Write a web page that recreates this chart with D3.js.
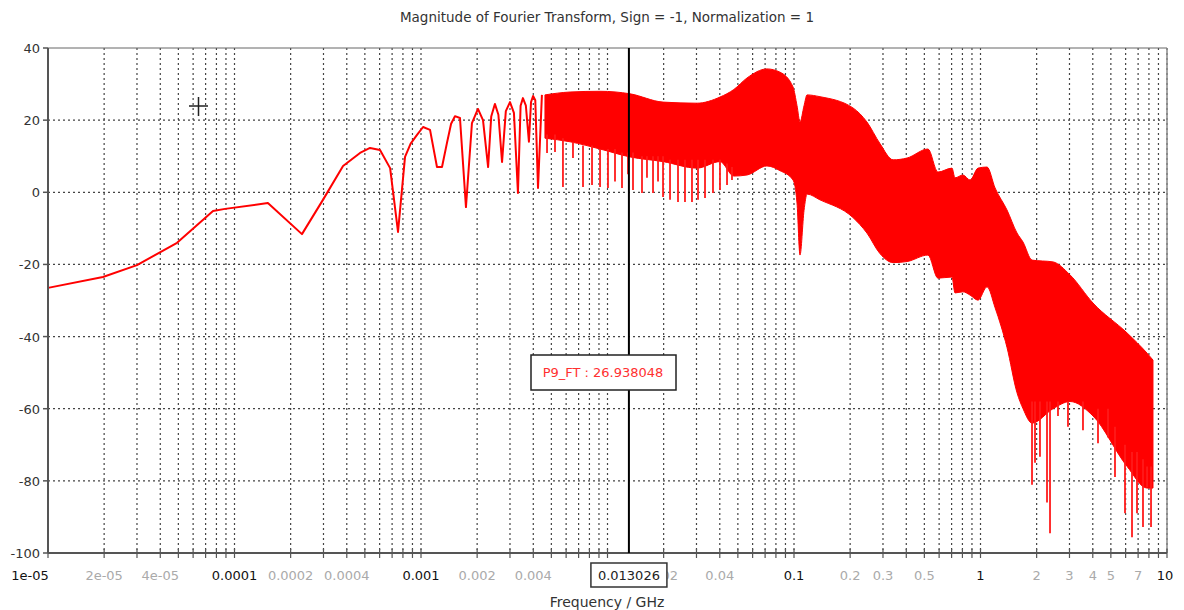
<!DOCTYPE html>
<html>
<head>
<meta charset="utf-8">
<script src="https://cdn.jsdelivr.net/npm/d3@7"></script>
<style>
  body { margin: 0; background: #fff; }
  svg { display: block; font-family: "DejaVu Sans", sans-serif; }
</style>
</head>
<body>
<div id="chart"></div>
<script>
// resolved part of the trace (GHz, dB)
const lineFreq = [1.0e-5, 1.97e-5, 3.0e-5, 4.92e-5, 7.67e-5, 8.9e-5, 1.51e-4, 2.30e-4, 2.98e-4, 3.82e-4,
  4.71e-4, 5.33e-4, 6.03e-4, 6.83e-4, 7.53e-4, 8.21e-4, 8.8e-4, 9.52e-4, 1.026e-3, 1.118e-3, 1.218e-3,
  1.296e-3, 1.378e-3, 1.45e-3, 1.521e-3, 1.618e-3, 1.742e-3, 1.876e-3, 2.02e-3, 2.15e-3, 2.29e-3,
  2.38e-3, 2.49e-3, 2.60e-3, 2.72e-3, 2.85e-3, 3.0e-3, 3.15e-3, 3.31e-3, 3.42e-3, 3.52e-3,
  3.65e-3, 3.79e-3, 3.89e-3, 3.99e-3, 4.10e-3, 4.24e-3, 4.45e-3];
const lineDb = [-26.5, -23.5, -20.2, -14.0, -5.2, -4.6, -3.0, -11.6, -2.1, 7.3,
  10.9, 12.3, 11.7, 6.7, -11.0, 9.8, 13.5, 15.9, 18.1, 17.3, 7.0,
  7.0, 13.7, 19.0, 21.1, 20.6, -4.1, 19.2, 23.1, 20.0, 7.0,
  21.0, 24.5, 21.5, 8.4, 22.5, 25.0, 22.0, -0.2, 24.0, 26.1,
  24.0, 14.0, 25.0, 26.7, 25.5, 1.2, 27.0];

// dense part: upper / lower envelope of the oscillation
const bandFreq = [4.62e-3, 6.30e-3, 9.12e-3, 1.321e-2, 1.986e-2, 3.02e-2, 4.01e-2, 4.76e-2, 5.60e-2, 7.16e-2,
  8.41e-2, 9.88e-2, 0.1038, 0.1077, 0.1132, 0.1175, 0.1378, 0.207, 0.246, 0.289,
  0.340, 0.404, 0.523, 0.591, 0.703, 0.730, 0.805, 0.879, 0.970, 1.084,
  1.197, 1.387, 1.570, 1.691, 1.889, 2.448, 3.02, 4.01, 6.11, 7.82, 8.41];
const bandHi = [27.0, 27.8, 28.0, 27.3, 25.0, 24.7, 26.4, 28.5, 31.7, 34.2,
  33.3, 29.2, 24.0, 19.5, 24.0, 27.0, 26.5, 23.4, 19.5, 13.5,
  9.0, 9.5, 12.0, 5.6, 6.7, 4.0, 4.8, 3.4, 6.7, 7.0,
  1.2, -4.9, -11.3, -13.8, -18.8, -19.3, -22.9, -30.7, -39.0, -44.6, -46.5];
const bandLo = [15.0, 14.0, 12.0, 9.8, 8.5, 6.7, 8.5, 4.5, 4.8, 7.3,
  6.0, 3.4, -3.0, -17.4, -5.0, -0.5, -2.1, -7.0, -11.3, -17.0,
  -19.5, -19.2, -17.4, -23.8, -23.5, -27.9, -27.6, -28.5, -29.9, -26.2,
  -32.0, -43.0, -55.6, -60.0, -64.0, -60.0, -58.0, -62.0, -76.0, -82.0, -82.0];

// individual dips that stick out of the band
const spikeFreq = [4.74e-3, 5.23e-3, 5.77e-3, 6.53e-3, 7.39e-3, 8.26e-3, 9.12e-3, 1.006e-2, 1.097e-2, 1.196e-2,
  1.288e-2, 1.370e-2, 1.531e-2, 1.628e-2, 1.754e-2, 1.866e-2, 1.985e-2, 2.164e-2, 2.388e-2, 2.603e-2,
  2.838e-2, 3.057e-2, 3.333e-2, 3.678e-2, 4.010e-2, 4.374e-2, 4.651e-2,
  1.889, 1.960, 2.084, 2.273, 2.359, 2.603, 2.945, 3.544, 4.266, 4.827,
  5.262, 5.954, 6.492, 6.905, 7.435, 7.82, 8.21];
const spikeTop = [16, 16, 15, 14, 13, 13, 12, 12, 12, 11,
  11, 11, 10, 10, 10, 10, 10, 9, 9, 9,
  9, 9, 9, 9, 9, 8, 7,
  -58, -58, -58, -58, -58, -58, -58, -58, -60, -60,
  -65, -70, -72, -72, -74, -76, -76];
const spikeLo = [10.9, 11.2, 1.5, 9.5, 1.5, 2.0, 1.5, 1.2, 3.0, 1.2,
  5.0, 0.6, -0.2, 4.0, -0.2, 3.0, -1.3, -2.1, -2.7, -2.7,
  -2.7, -2.1, -1.6, -0.2, 0.6, 2.0, 3.4,
  -81.1, -75.0, -73.3, -86.0, -94.5, -62.0, -65.0, -66.0, -69.6, -68.0,
  -78.9, -89.0, -95.6, -89.0, -92.8, -81.7, -92.8];

const yTicks = [40, 20, 0, -20, -40, -60, -80, -100];
const xMajor = [1e-5, 1e-4, 1e-3, 0.1, 1, 10];
const xMajorLabels = ["1e-05", "0.0001", "0.001", "0.1", "1", "10"];
const xMinor = [2e-5, 4e-5, 2e-4, 4e-4, 2e-3, 4e-3, 0.02, 0.04, 0.2, 0.3, 0.5, 2, 3, 4, 5, 7];
const xMinorLabels = ["2e-05", "4e-05", "0.0002", "0.0004", "0.002", "0.004", "0.02", "0.04",
  "0.2", "0.3", "0.5", "2", "3", "4", "5", "7"];

const cursorFreq = 0.013026;
const cursorLabel = "0.013026";
const markerText = "P9_FT : 26.938048";

const width = 1184, height = 610;
const margin = {top: 48, right: 17, bottom: 57, left: 48};

const svg = d3.select('#chart').append('svg')
  .attr('width', width)
  .attr('height', height);

const x = d3.scaleLog()
  .domain([1e-5, 10])
  .range([margin.left, width - margin.right]);
const y = d3.scaleLinear()
  .domain([-100, 40])
  .range([height - margin.bottom, margin.top]);

// grid
svg.append('g')
  .selectAll('line')
  .data(x.ticks())
  .join('line')
    .attr('x1', d => x(d)).attr('x2', d => x(d))
    .attr('y1', y(40)).attr('y2', y(-100))
    .attr('stroke', '#444')
    .attr('stroke-width', 1.2)
    .attr('stroke-dasharray', '2,3');

svg.append('g')
  .selectAll('line')
  .data(yTicks.slice(1, -1))
  .join('line')
    .attr('x1', x(1e-5)).attr('x2', x(10))
    .attr('y1', d => y(d)).attr('y2', d => y(d))
    .attr('stroke', '#444')
    .attr('stroke-width', 1.2)
    .attr('stroke-dasharray', '2,3');

// frame
svg.append('line')
  .attr('x1', x(1e-5)).attr('x2', x(10))
  .attr('y1', y(40)).attr('y2', y(40))
  .attr('stroke', '#666').attr('stroke-width', 1);
svg.append('line')
  .attr('x1', x(10)).attr('x2', x(10))
  .attr('y1', y(40)).attr('y2', y(-100))
  .attr('stroke', '#888').attr('stroke-width', 1.5);

// data
svg.append('path')
  .attr('d', d3.area()
    .x((d, i) => x(bandFreq[i]))
    .y0((d, i) => y(bandLo[i]))
    .y1((d, i) => y(bandHi[i]))
    .curve(d3.curveMonotoneX)(bandFreq))
  .attr('fill', '#ff0000')
  .attr('stroke', '#ff0000')
  .attr('stroke-width', 1);

svg.append('g')
  .selectAll('line')
  .data(spikeFreq)
  .join('line')
    .attr('x1', d => x(d)).attr('x2', d => x(d))
    .attr('y1', (d, i) => y(spikeTop[i]))
    .attr('y2', (d, i) => y(spikeLo[i]))
    .attr('stroke', '#ff1a1a')
    .attr('stroke-width', 1.8);

svg.append('path')
  .attr('d', d3.line()
    .x((d, i) => x(lineFreq[i]))
    .y(d => y(d))(lineDb))
  .attr('fill', 'none')
  .attr('stroke', '#ff0000')
  .attr('stroke-width', 2)
  .attr('stroke-linejoin', 'round');

// axes
svg.append('line')
  .attr('x1', x(1e-5)).attr('x2', x(1e-5))
  .attr('y1', y(40)).attr('y2', y(-100))
  .attr('stroke', '#555').attr('stroke-width', 2);
svg.append('line')
  .attr('x1', x(1e-5)).attr('x2', x(10))
  .attr('y1', y(-100)).attr('y2', y(-100))
  .attr('stroke', '#555').attr('stroke-width', 2);

svg.append('g')
  .selectAll('line')
  .data(yTicks)
  .join('line')
    .attr('x1', x(1e-5) - 5).attr('x2', x(1e-5))
    .attr('y1', d => y(d)).attr('y2', d => y(d))
    .attr('stroke', '#555').attr('stroke-width', 1.5);

svg.append('g')
  .selectAll('text')
  .data(yTicks)
  .join('text')
    .attr('x', x(1e-5) - 8)
    .attr('y', d => y(d) + 5)
    .attr('text-anchor', 'end')
    .attr('font-size', 13)
    .attr('fill', '#333')
    .text(d => d);

svg.append('g')
  .selectAll('line')
  .data(x.ticks())
  .join('line')
    .attr('x1', d => x(d)).attr('x2', d => x(d))
    .attr('y1', y(-100) - 4).attr('y2', y(-100) + 5)
    .attr('stroke', '#555').attr('stroke-width', 1.2);

svg.append('g')
  .selectAll('text')
  .data(xMinor)
  .join('text')
    .attr('x', d => x(d))
    .attr('y', y(-100) + 27)
    .attr('text-anchor', 'middle')
    .attr('font-size', 13)
    .attr('fill', '#aaa')
    .text((d, i) => xMinorLabels[i]);

svg.append('g')
  .selectAll('text')
  .data(xMajor)
  .join('text')
    .attr('x', (d, i) => i === 0 ? x(d) - 18 : (i === xMajor.length - 1 ? x(d) - 2 : x(d)))
    .attr('y', y(-100) + 27)
    .attr('text-anchor', 'middle')
    .attr('font-size', 13)
    .attr('fill', '#111')
    .text((d, i) => xMajorLabels[i]);

// cursor
const cx = x(cursorFreq);
svg.append('line')
  .attr('x1', cx).attr('x2', cx)
  .attr('y1', y(40)).attr('y2', y(-100))
  .attr('stroke', '#000').attr('stroke-width', 2);

const cur = svg.append('g');
cur.append('rect')
  .attr('x', cx - 38).attr('y', y(-100) + 10)
  .attr('width', 76).attr('height', 24)
  .attr('fill', '#fff').attr('stroke', '#333').attr('stroke-width', 1.5);
cur.append('text')
  .attr('x', cx).attr('y', y(-100) + 27)
  .attr('text-anchor', 'middle')
  .attr('font-size', 13)
  .attr('fill', '#222')
  .text(cursorLabel);

const mk = svg.append('g');
mk.append('rect')
  .attr('x', 531).attr('y', 355)
  .attr('width', 145).attr('height', 35)
  .attr('fill', '#fff').attr('stroke', '#222').attr('stroke-width', 1.5);
mk.append('text')
  .attr('x', 603).attr('y', 377)
  .attr('text-anchor', 'middle')
  .attr('font-size', 13)
  .attr('fill', '#ff3030')
  .text(markerText);

// crosshair
svg.append('path')
  .attr('d', 'M189,106H208M198.5,97V116')
  .attr('stroke', '#222').attr('stroke-width', 1.5);

// titles
svg.append('text')
  .attr('x', 607).attr('y', 22)
  .attr('text-anchor', 'middle')
  .attr('font-size', 13.5)
  .attr('fill', '#333')
  .text('Magnitude of Fourier Transform, Sign = -1, Normalization = 1');

svg.append('text')
  .attr('x', 607).attr('y', 607)
  .attr('text-anchor', 'middle')
  .attr('font-size', 14)
  .attr('fill', '#333')
  .text('Frequency / GHz');
</script>
</body>
</html>
